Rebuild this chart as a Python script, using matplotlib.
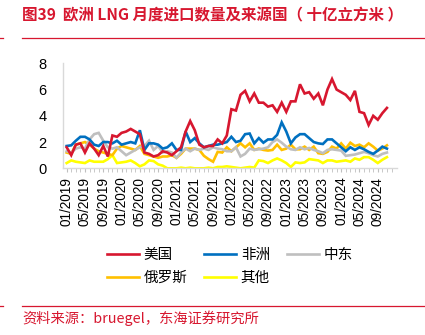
import matplotlib
matplotlib.use("Agg")
import matplotlib.pyplot as plt
from matplotlib.lines import Line2D

plt.rcParams["font.family"] = ["Liberation Sans", "Noto Sans CJK SC", "DejaVu Sans"]

# monthly LNG imports, bcm, 01/2019 .. 11/2024
us = [1.6, 1.0, 1.8, 1.9, 1.2, 1.9, 1.5, 1.0, 1.7, 0.9, 2.5,
      2.4, 2.7, 2.8, 3.0, 2.8, 2.6, 1.2,
      1.1, 0.9, 1.0, 1.3, 1.2, 1.0, 1.3, 1.6, 2.8, 3.6, 2.9,
      1.8, 1.6, 1.7, 1.7, 2.2, 1.9, 2.5,
      4.5, 4.4, 5.6, 5.9, 5.1, 5.7, 5.0, 5.0, 4.7, 4.8,
      4.3, 5.0, 4.3, 5.1, 5.1, 6.4, 5.7, 5.8, 5.3, 5.7,
      4.8, 6.0, 6.8, 6.0, 5.8, 5.6, 5.2, 5.9, 4.3, 4.2,
      3.3, 4.0, 3.7, 4.2, 4.6]
africa = [1.7, 1.75, 2.1, 2.4, 2.4, 2.2, 1.8, 1.7, 2.0, 2.0, 1.9,
          2.1, 1.8, 1.9, 2.0, 1.9, 2.9, 1.4, 1.9, 1.9, 1.8, 1.5,
          1.6, 1.9, 1.4, 1.4, 2.8, 2.0, 2.3, 1.9, 1.6, 1.7, 1.8, 1.8,
          1.9, 2.0, 2.4, 2.0, 2.1, 2.6, 2.65, 1.9, 2.3, 1.95, 2.2, 2.2,
          2.55, 3.5, 2.8, 1.9, 2.35, 2.6, 2.6, 2.3, 2.0, 1.9, 1.85,
          2.2, 2.2, 1.9, 1.6, 1.3, 1.6, 1.4, 1.6, 1.45, 1.25, 1.1,
          1.35, 1.65, 1.5]
mideast = [1.3, 1.2, 1.5, 1.6, 1.5, 2.2, 2.6, 2.7, 2.1, 1.6, 1.5,
           1.6, 1.3, 1.0, 1.2, 1.4, 1.6, 1.7, 2.1, 1.4, 1.7, 1.2,
           1.3, 1.2, 0.8, 1.2, 1.5, 1.3, 1.5, 1.4, 1.5, 1.4, 1.6, 1.5,
           1.45, 1.3, 1.3, 1.6, 0.9, 1.1, 1.5, 1.4, 1.45, 1.5, 1.6, 2.0,
           2.2, 1.95, 1.65, 1.45, 1.4, 1.6, 1.45, 1.55, 1.4, 1.3, 1.15,
           1.4, 1.45, 1.4, 1.35, 0.95, 1.0, 1.05, 1.15, 1.25, 1.15, 1.0,
           0.9, 1.1, 1.2]
russia = [1.2, 1.1, 1.8, 1.9, 2.0, 1.8, 1.5, 1.3, 1.2, 1.1, 1.0,
          1.5, 1.7, 1.6, 1.5, 1.4, 1.7, 1.1, 1.0, 0.9, 0.8, 0.9,
          0.9, 1.0, 0.8, 1.1, 1.5, 1.5, 1.5, 1.4, 0.95, 0.7, 0.5, 1.25,
          1.2, 1.6, 1.3, 1.6, 1.9, 1.6, 1.9, 1.4, 1.5, 1.4, 1.35, 1.4,
          1.8, 1.4, 1.5, 1.8, 1.45, 1.45, 1.65, 1.4, 1.65, 1.15, 1.1,
          1.25, 1.65, 1.5, 1.9, 1.5, 1.95, 1.7, 1.8, 1.6, 1.9, 1.65,
          1.35, 1.5, 1.75]
other = [0.4, 0.6, 0.5, 0.45, 0.4, 0.6, 0.5, 0.5, 0.5, 0.7, 1.0,
         0.4, 0.45, 0.5, 0.6, 0.4, 0.15, 0.3, 0.6, 0.55, 0.3, 0.2,
         0.0, 0.0, 0.0, 0.05, 0.0, 0.05, 0.0, 0.0, 0.0, 0.05, 0.0, 0.1,
         0.1, 0.15, 0.1, 0.05, 0.0, 0.05, 0.1, 0.05, 0.6, 0.55, 0.4, 0.6,
         0.75, 0.6, 0.4, 0.1, 0.45, 0.4, 0.45, 0.7, 0.65, 0.6, 0.4,
         0.6, 0.6, 0.5, 0.55, 0.6, 0.5, 0.75, 0.65, 0.85, 0.85, 0.65,
         0.4, 0.65, 0.85]

months = [f"{m:02d}/{y}" for y in range(2019, 2025) for m in range(1, 13)][:len(us)]
tick_every = 4

RED = "#D7172F"

fig = plt.figure(figsize=(4.25, 3.35), dpi=100)
ax = fig.add_axes([63 / 425, 1 - 168.3 / 335, (397 - 63) / 425, (168.3 - 63.3) / 335])

x = list(range(len(us)))
series = [
    ("美国", us, RED),
    ("非洲", africa, "#0070C0"),
    ("中东", mideast, "#BFBFBF"),
    ("俄罗斯", russia, "#FFC000"),
    ("其他", other, "#FFFF00"),
]
handles = {}
for name, vals, col in reversed(series):
    (ln,) = ax.plot(x, vals, color=col, lw=1.9, solid_joinstyle="miter")
    handles[name] = ln

ax.set_ylim(0, 8)
ax.set_yticks([0, 2, 4, 6, 8])
ax.set_xlim(-0.8, 72.2)
ax.set_xticks(x[::tick_every])
ax.set_xticklabels(months[::tick_every], rotation=90, fontsize=9.8)
ax.set_xticks(range(0, 72), minor=True)
ax.tick_params(axis="y", length=0, pad=12, labelsize=10.5)
ax.tick_params(axis="x", which="both", length=3, color="#BFBFBF", pad=3)
for s in ["top", "right"]:
    ax.spines[s].set_visible(False)
for s in ["left", "bottom"]:
    ax.spines[s].set_color("#D9D9D9")
    ax.spines[s].set_linewidth(1.0)

order = ["美国", "俄罗斯", "非洲", "其他", "中东"]
fig.legend([handles[k] for k in order], order, ncol=3, frameon=False,
           loc="upper left", bbox_to_anchor=(100 / 425, 1 - 241 / 335),
           fontsize=10.5, handlelength=2.2, handletextpad=0.3,
           columnspacing=1.15, labelspacing=0.6, borderpad=0)

# header and footer
fig.text(22 / 425, 1 - 15 / 335, "图39  欧洲 LNG 月度进口数量及来源国（ 十亿立方米 ）",
         color=RED, fontsize=11.2, fontweight="bold", va="center", ha="left",
         family=["Noto Sans CJK SC", "DejaVu Sans"])
fig.add_artist(Line2D([22 / 425, 1], [1 - 38 / 335] * 2, color=RED, lw=0.9))
fig.add_artist(Line2D([0, 3 / 425], [1 - 38 / 335] * 2, color=RED, lw=0.9))
fig.add_artist(Line2D([22 / 425, 1], [1 - 305.5 / 335] * 2, color=RED, lw=0.9))
fig.add_artist(Line2D([0, 3 / 425], [1 - 305.5 / 335] * 2, color=RED, lw=0.9))
fig.text(22 / 425, 1 - 318 / 335, "资料来源：bruegel，东海证券研究所",
         color=RED, fontsize=10.3, va="center", ha="left",
         family=["Noto Sans CJK SC", "DejaVu Sans"])

fig.savefig("out.png", dpi=100)
